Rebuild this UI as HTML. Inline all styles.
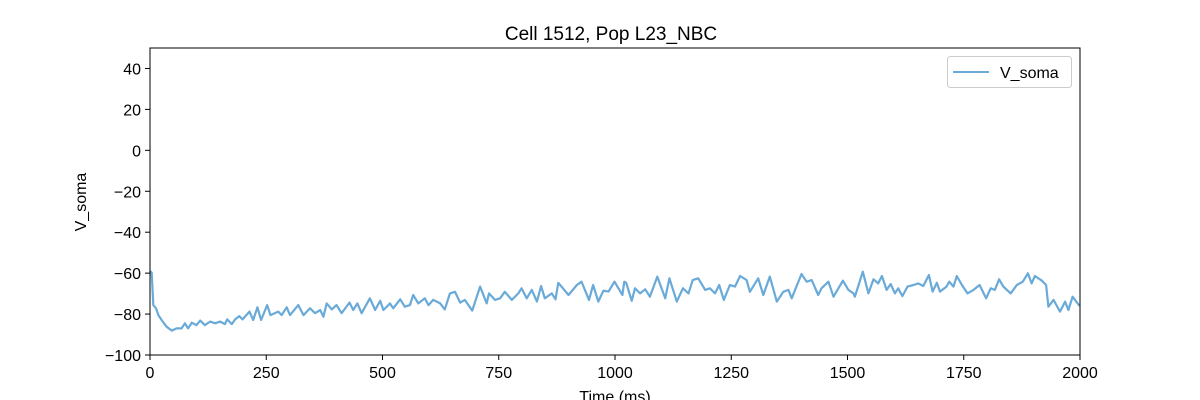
<!DOCTYPE html>
<html><head><meta charset="utf-8"><style>
html,body{margin:0;padding:0;background:#fff;}
svg{display:block;font-family:"Liberation Sans",sans-serif;}
</style></head><body>
<svg id="chart" width="1200" height="400">
<rect x="0" y="0" width="1200" height="400" fill="#fff"/>
<text x="611" y="40" font-size="19" text-anchor="middle">Cell 1512, Pop L23_NBC</text>
<g id="ticks"></g>
<path id="trace" fill="none" stroke="#6aaad8" stroke-width="2.2" stroke-linejoin="round"/>
<rect x="150" y="48" width="930" height="307" fill="none" stroke="#000" stroke-width="1"/>
<text x="86" y="202" font-size="16" text-anchor="middle" transform="rotate(-90 86 202)">V_soma</text>
<text x="615" y="402" font-size="16" text-anchor="middle">Time (ms)</text>
<g>
<rect x="947.5" y="56.5" width="124" height="31" rx="3" fill="#fff" stroke="#ccc"/>
<line x1="953" y1="72" x2="989" y2="72" stroke="#6aaad8" stroke-width="2"/>
<text x="1000" y="78" font-size="16">V_soma</text>
</g>
</svg>
<script>
const times=[0,3.6,7,13,18,25,36,47,57,68,75,82,90,100,108,118,129,140,151,161,166,176,183,192,199,214,222,231,239,252,259,276,283,294,301,319,330,344,355,366,373,380,391,401,412,429,437,446,455,473,484,495,502,513,
516,523,538,548,559,566,577,591,599,609,624,634,645,656,667,677,693,710,724,729,742,753,763,778,792,799,810,821,832,841,849,864,872,878,900,918,928,944,953,964,975,986,999,1016,1020,
1024,1036,1043,1054,1065,1075,1091,1108,1117,1133,1146,1158,1167,1179,1194,1204,1215,1224,1234,1247,1258,1269,1283,1290,1308,1319,1333,1348,1362,1373,1380,1401,1412,1423,1437,1444,1459,1470,1490,1502,1513,
1516,1533,1545,1556,1566,1574,1584,1593,1602,1609,1618,1629,1642,1652,1663,1675,1683,1692,1699,1713,1719,1728,1735,1746,1758,1771,1784,1798,1808,1817,1826,1835,1851,1864,1877,1888,1896,1903,1918,1927,1932,1943,1957,1968,1975,1984,1999];
const vsoma=[-59,-59.8,-75.6,-77.2,-80.5,-82.9,-86.2,-88.1,-87,-87,-84.5,-87,-84.2,-85.4,-83.2,-85.4,-83.7,-84.5,-83.7,-84.9,-82.6,-84.9,-82.6,-81,-82.6,-78.8,-82.9,-76.7,-82.9,-75.6,-80.5,-78.8,-80.5,-76.7,-80.5,-75.6,-80.5,-77.2,-79.6,-78,-81.3,-74.8,-77.7,-75.6,-79.6,-74.4,-78,-74.8,-79.6,-72.3,-78,-73.5,-78,-75.6,
-74.8,-77.2,-72.8,-76.4,-75.6,-70.7,-74.8,-72.3,-75.6,-73.1,-74.8,-77.7,-69.9,-69.1,-74.4,-73.1,-78.3,-66.6,-74.8,-69.9,-73.1,-72.3,-69.1,-73.1,-69.9,-67.4,-72.3,-68.2,-73.9,-66.3,-72.3,-69.9,-72.8,-64.7,-70.7,-65.8,-64.2,-73.1,-65.8,-73.9,-68.6,-69,-64.2,-70.7,-64.2,
-64.7,-73.5,-67.4,-69.9,-67.9,-71.5,-61.7,-72.3,-62.5,-73.9,-67.4,-69.9,-63.4,-62.5,-68.2,-67.4,-69.9,-65.8,-73.1,-65.8,-66.6,-61.4,-63.4,-69.1,-62.5,-70.7,-61.7,-73.9,-69.1,-68.2,-72.3,-60.4,-64.2,-63.4,-70.7,-67.4,-64.2,-71.5,-63.7,-68.2,-69.9,
-71.5,-59.3,-69.9,-63,-65,-61.4,-68.2,-65.3,-69.9,-67.4,-71.2,-66.6,-65.8,-65,-66.3,-60.9,-69,-64.7,-69,-66.6,-64.2,-66.6,-61.4,-65.8,-69.9,-68.2,-65.8,-72.3,-67.4,-68.2,-63,-66.6,-69.9,-65.8,-64.2,-60.1,-65,-61.4,-63.7,-65.8,-76.4,-73.1,-78.8,-73.9,-78,-71.5,-76];
const xTicks=[0,250,500,750,1000,1250,1500,1750,2000];
const yTicks=[-100,-80,-60,-40,-20,0,20,40];
const X0=150,X1=1080,Y0=355,Y1=48;
const xs=t=>X0+(t/2000)*(X1-X0);
const ys=v=>Y0-((v+100)/150)*(Y0-Y1);
const ns="http://www.w3.org/2000/svg";
const g=document.getElementById('ticks');
function mk(tag,attrs){const e=document.createElementNS(ns,tag);for(const k in attrs)e.setAttribute(k,attrs[k]);g.appendChild(e);return e;}
xTicks.forEach(t=>{
 const l=mk('line',{x1:xs(t),x2:xs(t),y1:Y0,y2:Y0+5,stroke:'#000'});
 
 
 const tx=mk('text',{x:xs(t),y:Y0+23,'font-size':16,'text-anchor':'middle'});
 tx.textContent=t;
 
 
});
yTicks.forEach(v=>{
 const l=mk('line',{x1:X0-5,x2:X0,y1:ys(v),y2:ys(v),stroke:'#000'});
 
 
 const tx=mk('text',{x:X0-9,y:ys(v)+6,'font-size':16,'text-anchor':'end'});
 tx.textContent=v<0?'\u2212'+Math.abs(v):v;
 
 
});
document.getElementById('trace').setAttribute('d',times.map((t,i)=>(i?'L':'M')+xs(t).toFixed(1)+','+ys(vsoma[i]).toFixed(1)).join(''));
</script>
</body></html>
